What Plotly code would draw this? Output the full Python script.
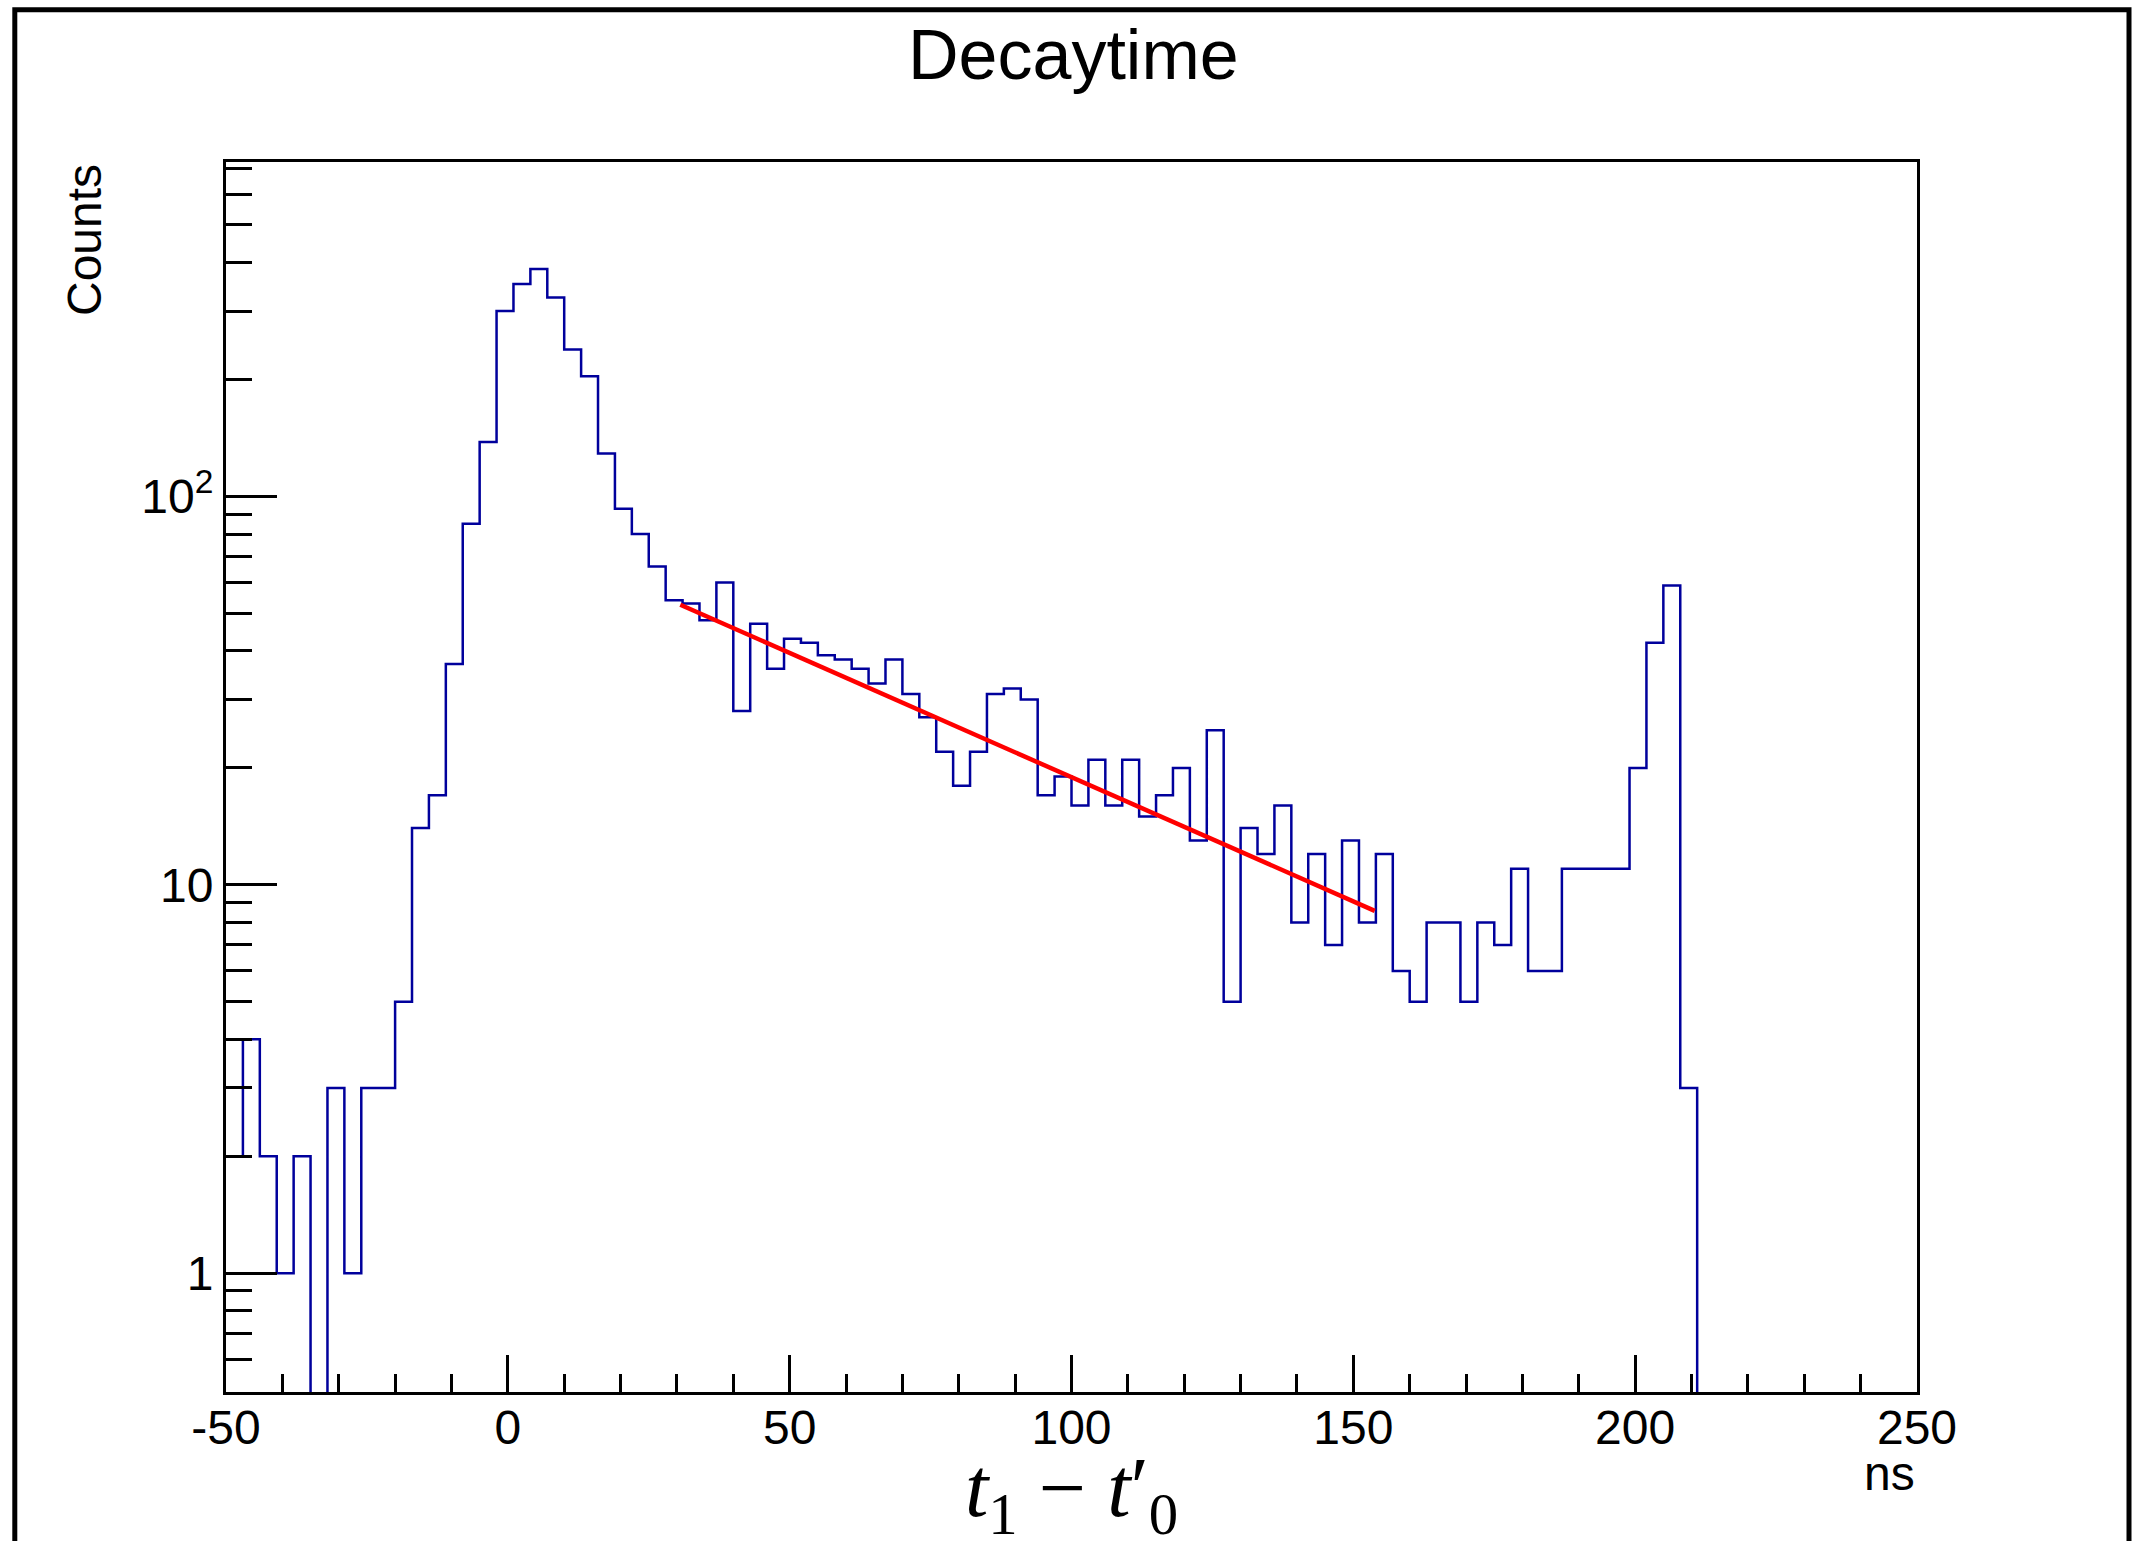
import math
import plotly.graph_objects as go

# ---- data ----
bin_start = -50.0      # ns, lower edge of first bin
bin_width = 3.0        # ns
counts = [
    2, 4, 2, 1, 2, 0, 3, 1, 3, 3,
    5, 14, 17, 37, 85, 138, 300, 352, 385, 325,
    239, 204, 129, 93, 80, 66, 54, 53, 48, 60,
    28, 47, 36, 43, 42, 39, 38, 36, 33, 38,
    31, 27, 22, 18, 22, 31, 32, 30, 17, 19,
    16, 21, 16, 21, 15, 17, 20, 13, 25, 5,
    14, 12, 16, 8, 12, 7, 13, 8, 12, 6,
    5, 8, 8, 5, 8, 7, 11, 6, 6, 11,
    11, 11, 11, 20, 42, 59, 3, 0, 0, 0,
    0, 0, 0, 0, 0, 0, 0, 0, 0, 0,
]
# exponential fit (straight on log axis): endpoints
fit_x = [30.6, 153.8]
fit_y = [52.6, 8.57]

x_major = [-50, 0, 50, 100, 150, 200, 250]
x_labels = ["-50", "0", "50", "100", "150", "200", "250"]
y_major = [1, 10, 100]
y_labels = ["1", "10", "10<sup>2</sup>"]
y_minor = [0.6, 0.7, 0.8, 0.9, 2, 3, 4, 5, 6, 7, 8, 9,
           20, 30, 40, 50, 60, 70, 80, 90, 200, 300, 400, 500, 600, 700]

# ---- geometry ----
W, H = 2132, 1541
L, R, T, B = 226, 1917, 162, 1392
pw, ph = R - L, B - T

def px(xp):
    return (xp - L) / pw

def py(yp):
    return (B - yp) / ph

n = len(counts)
edges = [bin_start + i * bin_width for i in range(n + 1)]
floor_val = 1e-3  # empty bins drop below the axis (log scale)
yvals = [c if c > 0 else floor_val for c in counts]
step_x = edges
step_y = yvals + [yvals[-1]]

fig = go.Figure()
fig.add_trace(go.Scatter(
    x=step_x, y=step_y, mode="lines", line_shape="hv",
    line=dict(color="#00009c", width=2.5), hoverinfo="skip", showlegend=False))
fig.add_trace(go.Scatter(
    x=fit_x, y=fit_y, mode="lines",
    line=dict(color="#ff0000", width=4.5), hoverinfo="skip", showlegend=False))

font_sans = "Liberation Sans, Arial, Helvetica, sans-serif"

fig.update_layout(
    width=W, height=H,
    margin=dict(l=L, r=W - R, t=T, b=H - B, pad=0),
    paper_bgcolor="white", plot_bgcolor="white",
    font=dict(family=font_sans, size=48, color="black"),
    showlegend=False,
)
fig.update_xaxes(
    range=[-50, 250], showgrid=False, zeroline=False,
    showline=True, linecolor="black", linewidth=3, mirror=True,
    ticks="inside", ticklen=37, tickwidth=2.5, tickcolor="black",
    tickvals=x_major, ticktext=x_labels, ticklabelstandoff=-9,
    tickfont=dict(family=font_sans, size=48, color="black"),
    minor=dict(ticks="inside", ticklen=18, dtick=10, tickwidth=2.5,
               tickcolor="black", showgrid=False),
)
fig.update_yaxes(
    type="log", range=[math.log10(0.4945), math.log10(726)],
    showgrid=False, zeroline=False,
    showline=True, linecolor="black", linewidth=3, mirror=True,
    ticks="inside", ticklen=51, tickwidth=2.5, tickcolor="black",
    tickvals=y_major, ticktext=y_labels,
    tickfont=dict(family=font_sans, size=48, color="black"),
    minor=dict(ticks="inside", ticklen=26, tickvals=y_minor, tickwidth=2.5,
               tickcolor="black", showgrid=False),
)

annotations = [
    dict(text="Decaytime", x=px(1073), y=py(55), xref="paper", yref="paper",
         xanchor="center", yanchor="middle", showarrow=False,
         font=dict(family=font_sans, size=70, color="black")),
    dict(text="Counts", x=px(84), y=py(162), xref="paper", yref="paper",
         xanchor="center", yanchor="top", textangle=-90, showarrow=False,
         font=dict(family=font_sans, size=48, color="black")),
    dict(text="ns", x=px(1917), y=py(1473), xref="paper", yref="paper",
         xanchor="right", yanchor="middle", showarrow=False,
         font=dict(family=font_sans, size=48, color="black")),
    dict(text="<i>t</i><sub>1</sub> \u2212 <i>t</i>\u2032<sub>0</sub>",
         x=px(1071), y=py(1494), xref="paper", yref="paper",
         xanchor="center", yanchor="middle", showarrow=False,
         font=dict(family="Liberation Serif, DejaVu Serif, serif", size=84, color="black")),
]
fig.update_layout(annotations=annotations)

# canvas frame (left, top, right visible)
fx0, fx1 = px(14.8), px(2129)
fy_top, fy_bot = py(9.8), py(1600)
fig.add_shape(type="path",
              path=f"M {fx0},{fy_bot} L {fx0},{fy_top} L {fx1},{fy_top} L {fx1},{fy_bot}",
              xref="paper", yref="paper", line=dict(color="black", width=5))

fig.write_html("out.html")
